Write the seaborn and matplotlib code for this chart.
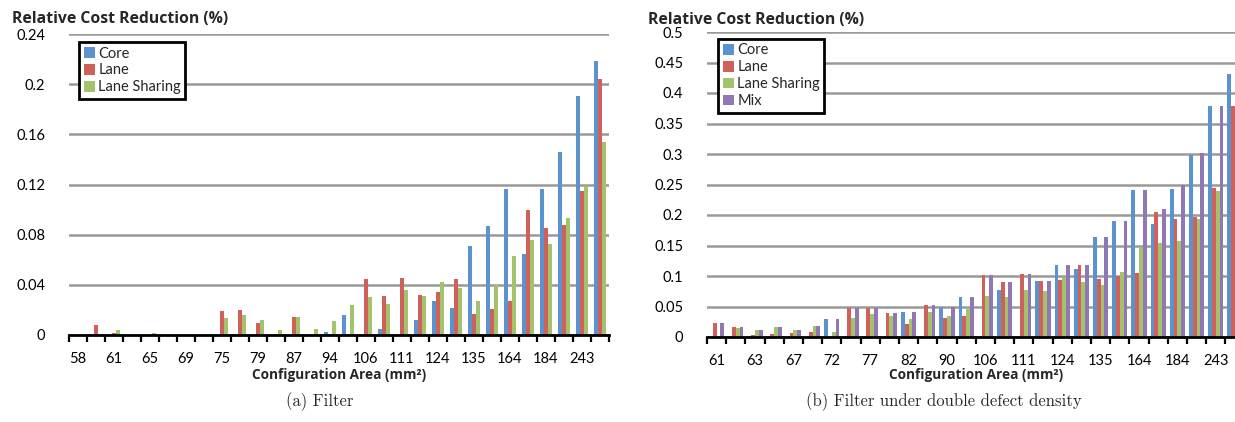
import numpy as np
import pandas as pd
import matplotlib
matplotlib.use("Agg")
import matplotlib.pyplot as plt
import seaborn as sns
from matplotlib.ticker import FuncFormatter, FixedLocator

# ---------------- data ----------------
series_a = ["Core", "Lane", "Lane Sharing"]
labels_a = ["58", "61", "65", "69", "75", "79", "87", "94", "106", "111", "124", "135", "164", "184", "243"]
core_a = [0, 0, 0, 0, 0, 0, 0, 0, 0, 0, 0, 0, 0, 0, 0.0024, 0.0157, 0, 0.0048, 0, 0.0123,
          0.027, 0.0219, 0.0712, 0.0867, 0.1168, 0.0645, 0.1168, 0.1456, 0.1907, 0.2187]
lane_a = [0, 0.0083, 0.0016, 0, 0, 0, 0, 0, 0.0195, 0.0197, 0.0096, 0, 0.0144, 0, 0, 0,
          0.0448, 0.031, 0.0456, 0.032, 0.0344, 0.0448, 0.0168, 0.0208, 0.0272, 0.100, 0.085,
          0.088, 0.1152, 0.204]
share_a = [0, 0, 0.0043, 0, 0.0015, 0, 0.001, 0, 0.0133, 0.0163, 0.0123, 0.0043, 0.0144, 0.005,
           0.0115, 0.024, 0.030, 0.025, 0.0355, 0.031, 0.0424, 0.0376, 0.0272, 0.0395, 0.0632,
           0.0757, 0.0725, 0.0936, 0.1192, 0.1536]

series_b = ["Core", "Lane", "Lane Sharing", "Mix"]
labels_b = ["61", "63", "67", "72", "77", "82", "90", "106", "111", "124", "135", "164", "184", "243"]
core_b = [0, 0, 0, 0, 0, 0, 0.030, 0, 0, 0, 0.041, 0, 0.049, 0.0653, 0, 0.0768, 0, 0.091,
          0.1177, 0.111, 0.1636, 0.1898, 0.2417, 0.1849, 0.2422, 0.298, 0.378, 0.4306]
lane_b = [0.0225, 0.016, 0.004, 0.005, 0.0066, 0.0077, 0, 0.048, 0.048, 0.0395, 0.022, 0.0527,
          0.031, 0.0347, 0.1024, 0.0904, 0.103, 0.0915, 0.0937, 0.1188, 0.0948, 0.1002, 0.1046,
          0.205, 0.194, 0.197, 0.244, 0.378]
share_b = [0, 0.0154, 0.011, 0.0165, 0.012, 0.018, 0.008, 0.031, 0.037, 0.034, 0.0296, 0.0406,
           0.035, 0.0467, 0.0675, 0.0658, 0.0773, 0.0762, 0.0964, 0.0899, 0.086, 0.1073, 0.148,
           0.154, 0.157, 0.194, 0.239, 0.30]
mix_b = [0.0225, 0.0165, 0.011, 0.0165, 0.012, 0.018, 0.030, 0.048, 0.048, 0.0395, 0.041, 0.0527,
         0.049, 0.0653, 0.1024, 0.0904, 0.103, 0.0915, 0.1177, 0.1188, 0.1636, 0.1898, 0.2417,
         0.2094, 0.25, 0.302, 0.378, 0.4306]

colors = {"Core": "#5b93cf", "Lane": "#cf605a", "Lane Sharing": "#a3c26b", "Mix": "#8f78b4"}

# ---------------- style ----------------
sns.set_theme(style="white")
plt.rcParams["font.family"] = ["Lato", "DejaVu Sans"]

W, H = 1235, 422
fig = plt.figure(figsize=(W / 100, H / 100), dpi=100)


def make_df(series, arrays):
    rows = []
    for s, arr in zip(series, arrays):
        for i, v in enumerate(arr):
            rows.append({"cat": i, "series": s, "value": v})
    return pd.DataFrame(rows)


def panel(rect_px, df, series, n, ymax, ystep, xlabels, width, leg_anchor):
    x0, y0, x1, y1 = rect_px  # left, top, right, bottom in pixels
    ax = fig.add_axes([x0 / W, 1 - y1 / H, (x1 - x0) / W, (y1 - y0) / H])
    sns.barplot(data=df, x="cat", y="value", hue="series", order=list(range(n)),
                hue_order=series, palette=colors, saturation=1, width=width,
                linewidth=0, ax=ax)
    ax.set_xlim(-0.5, n - 0.5)
    ax.set_ylim(0, ymax)
    yt = np.round(np.arange(0, ymax + ystep / 2, ystep), 4)
    ax.set_yticks(yt)
    ax.yaxis.set_major_formatter(FuncFormatter(lambda v, p: f"{v:g}"))
    ax.yaxis.grid(True, color="#999999", linewidth=1.8)
    ax.set_axisbelow(True)
    for s in ["top", "right", "left"]:
        ax.spines[s].set_visible(False)
    ax.spines["bottom"].set_color("black")
    ax.spines["bottom"].set_linewidth(2)
    ax.spines["bottom"].set_zorder(5)
    ax.set_xticks(list(range(0, n, 2))[:len(xlabels)])
    ax.set_xticklabels(xlabels)
    ax.xaxis.set_minor_locator(FixedLocator(np.arange(-0.5, n, 1.0)))
    ax.tick_params(axis="x", which="major", length=0, pad=12, labelsize=10.5, colors="black")
    ax.tick_params(axis="x", which="minor", length=5, width=1.6, direction="out",
                   color="black", bottom=True)
    ax.tick_params(axis="y", length=0, pad=17, labelsize=10.5, colors="black")
    ax.set_xlabel("")
    ax.set_ylabel("")
    h, l = ax.get_legend_handles_labels()
    leg = ax.legend(h, l, loc="upper left", bbox_to_anchor=leg_anchor, frameon=True,
                    fancybox=False, fontsize=10.5, handlelength=0.75, handleheight=0.75,
                    handletextpad=0.25, labelspacing=0.2, borderpad=0.3,
                    borderaxespad=0)
    leg.get_frame().set_edgecolor("black")
    leg.get_frame().set_linewidth(2)
    leg.get_frame().set_alpha(1)
    return ax


df_a = make_df(series_a, [core_a, lane_a, share_a])
df_b = make_df(series_b, [core_b, lane_b, share_b, mix_b])

ax_a = panel((69, 34, 609, 335), df_a, series_a, 30, 0.24, 0.04, labels_a, 0.667,
             (0.019, 0.973))
ax_b = panel((707, 32, 707 + 28 * 19.2, 337), df_b, series_b, 28, 0.5, 0.05, labels_b, 0.8,
             (0.021, 0.977))

# axis titles
ytitle = dict(fontsize=11.3, fontweight="bold", family=["Open Sans", "DejaVu Sans"])
xtitle = dict(fontsize=9.8, fontweight="bold", family=["Open Sans", "DejaVu Sans"])
fig.text(12 / W, 1 - 19 / H, "Relative Cost Reduction (%)", ha="left", va="center", **ytitle)
fig.text(648 / W, 1 - 20 / H, "Relative Cost Reduction (%)", ha="left", va="center", **ytitle)
fig.text(339 / W, 1 - 375 / H, "Configuration Area (mm²)", ha="center", va="center", **xtitle)
fig.text(976 / W, 1 - 375 / H, "Configuration Area (mm²)", ha="center", va="center", **xtitle)

# captions
fig.text(320 / W, 1 - 402 / H, "(a) Filter", fontsize=12, family=["cmr10", "DejaVu Serif"],
         ha="center", va="center")
fig.text(944 / W, 1 - 402 / H, "(b) Filter under double defect density", fontsize=12,
         family=["cmr10", "DejaVu Serif"], ha="center", va="center")

fig.savefig("out.png", dpi=100, facecolor="white")
